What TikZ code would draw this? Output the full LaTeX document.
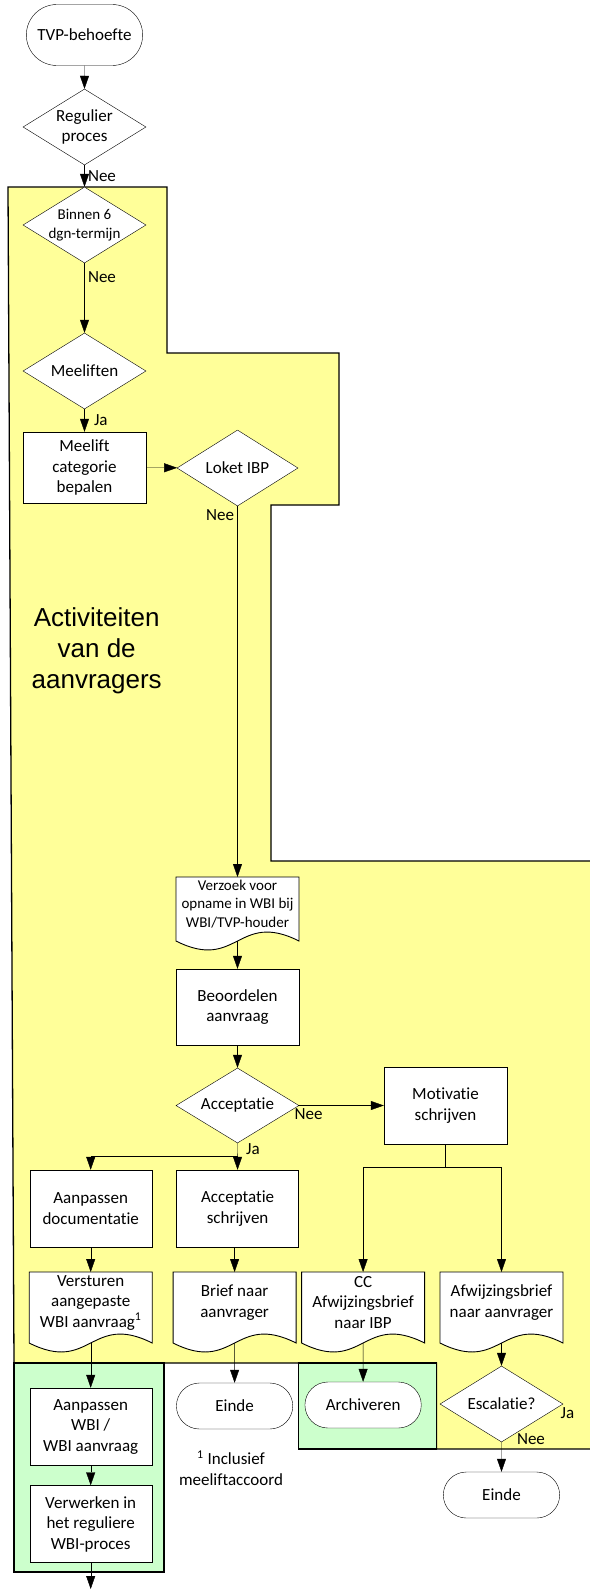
\documentclass[tikz,border=0pt]{standalone}
\usepackage{fontspec}
\setmainfont{Carlito}[Ligatures=NoCommon]
\newfontfamily\arialfont{Liberation Sans}
\usetikzlibrary{shapes.geometric,shapes.misc,arrows.meta}
\pgfdeclarelayer{back}
\pgfdeclarelayer{mid}
\pgfsetlayers{back,mid,main}
\definecolor{laneyellow}{RGB}{255,255,153}
\definecolor{lanegreen}{RGB}{204,255,204}

\begin{document}
\begin{tikzpicture}[x=1pt,y=-1pt,line width=0.9pt,
    every node/.style={font=\fontsize{17pt}{20.5pt}\selectfont},
    proc/.style={draw,fill=white,minimum width=123pt,minimum height=76pt,align=center,inner sep=1pt},
    dec/.style={diamond,draw,fill=white,minimum width=123pt,minimum height=76pt,aspect=1.62,inner sep=0pt,align=center},
    term/.style={rounded rectangle,draw,fill=white,minimum width=123pt,minimum height=46pt},
    docu/.style={minimum width=123pt,minimum height=61pt,align=center,inner sep=1pt,outer sep=0pt},
    docline/.style={draw=black,fill=white,line width=0.9pt},
    arr/.style={-{Triangle[length=13pt,width=9pt]}},
    lane/.style={draw,line width=1.3pt},
    small/.style={font=\fontsize{15pt}{18.5pt}\selectfont}]
    \useasboundingbox (0,0) rectangle (589,1590);
    \begin{pgfonlayer}{back}
        \draw[lane,fill=laneyellow] (8,187) -- (167,187) -- (167,353) -- (339,353) -- (339,505) -- (271,505) -- (271,861) -- (592,861) -- (592,1449) -- (436.5,1449) -- (436.5,1363) -- (14,1363) -- cycle;
        \draw[lane,fill=lanegreen] (14,1363) rectangle (164,1572);
        \draw[lane,fill=lanegreen] (298.6,1363) rectangle (436.5,1449);
    \end{pgfonlayer}

    \node[align=center,font=\arialfont\fontsize{26pt}{31pt}\selectfont] (lanetitel) at (96.7,651) {Activiteiten\\van de\\aanvragers};

    \node[term,minimum height=61pt] (tvp) at (84.5,35) {TVP-behoefte};
    \node[dec] (reg) at (84.5,127) {Regulier\\proces};
    \node[dec,small,inner sep=-2pt] (binnen) at (84.5,225) {Binnen 6\\dgn-termijn};
    \node[dec] (meel) at (84.5,371) {Meeliften};
    \node[proc,minimum height=71pt] (cat) at (84.5,467.5) {Meelift\\categorie\\bepalen};
    \node[dec,minimum width=121pt] (loket) at (237.5,468) {Loket IBP};
    \node[docu,small,minimum height=54pt] (verzoek) at (237.5,904) {Verzoek voor\\opname in WBI bij\\WBI/TVP-houder};
    \node[proc] (beoord) at (237.5,1007) {Beoordelen\\aanvraag};
    \node[dec,minimum height=75pt] (accept) at (237.5,1105.5) {Acceptatie};
    \node[proc,minimum height=77pt] (motiv) at (445.5,1105.5) {Motivatie\\schrijven};
    \node[proc,minimum width=122pt,minimum height=77pt] (aandoc) at (90.7,1208.5) {Aanpassen\\documentatie};
    \node[proc,minimum width=122pt,minimum height=77pt] (accschr) at (237.6,1208.5) {Acceptatie\\schrijven};
    \node[docu] (verst) at (90.7,1302.5) {Versturen\\aangepaste\\WBI aanvraag\textsuperscript{1}};
    \node[docu] (brief) at (234.6,1302.5) {Brief naar\\aanvrager};
    \node[docu] (cc) at (363.1,1302.5) {CC\\Afwijzingsbrief\\naar IBP};
    \node[docu] (afw) at (501.5,1302.5) {Afwijzingsbrief\\naar aanvrager};
    \node[proc,minimum width=122pt,minimum height=77pt] (aanwbi) at (90.7,1426.5) {Aanpassen\\WBI /\\WBI aanvraag};
    \node[proc,minimum width=122pt,minimum height=77pt] (verwerk) at (90.7,1524) {Verwerken in\\het reguliere\\WBI-proces};
    \node[term] (einde) at (234.6,1406) {Einde};
    \node[term] (archief) at (363.1,1405) {Archiveren};
    \node[dec] (escal) at (501.5,1404) {Escalatie?};
    \node[term] (eindetwee) at (501.5,1495) {Einde};
    \node[align=center] (voetnoot) at (231,1468) {\textsuperscript{1} Inclusief\\meeliftaccoord};

    \begin{pgfonlayer}{mid}
        \foreach \d in {verzoek,verst,brief,cc,afw}
            \draw[docline] (\d.north west) -- (\d.north east) -- ([yshift=-10pt]\d.south east) .. controls +(-61.5,-31) and +(61.5,31) .. ([yshift=-10pt]\d.south west) -- cycle;
    \end{pgfonlayer}

    \coordinate (jacc) at (237.5,1156);
    \coordinate (jmot) at (445.5,1167);
    \coordinate (uit) at (90.7,1589);

    \draw[arr] (tvp) -- (reg);
    \draw[arr] (reg) -- node[right] {Nee} (binnen);
    \draw[arr] (binnen) -- node[pos=0.2,right] {Nee} (meel);
    \draw[arr] (meel) -- node[right=6pt] {Ja} (cat);
    \draw[arr] (cat) -- (loket);
    \draw[arr] (loket) -- node[pos=0,below left] {Nee} (verzoek);
    \draw[arr] ([yshift=-10pt]verzoek.south) -- (beoord);
    \draw[arr] (beoord) -- (accept);
    \draw[arr] (accept) -- node[pos=0,below right,xshift=-8pt] {Nee} (motiv);
    \draw[arr] (accept) -- node[pos=0.22,right=5pt] {Ja} (accschr);
    \draw[arr] (jacc) -| (aandoc.north);
    \draw (motiv) -- (jmot);
    \draw[arr] (jmot) -| (cc.north);
    \draw[arr] (jmot) -| (afw.north);
    \draw[arr] (aandoc) -- (verst);
    \draw[arr] (accschr.south -| brief.north) -- (brief.north);
    \draw[arr] ([yshift=-10pt]verst.south) -- (aanwbi);
    \draw[arr] ([yshift=-10pt]brief.south) -- (einde);
    \draw[arr] ([yshift=-10pt]cc.south) -- (archief);
    \draw[arr] ([yshift=-10pt]afw.south) -- (escal);
    \draw[arr] (escal) -- node[pos=0,right=12pt,yshift=3pt] {Nee} (eindetwee);
    \node[below right,xshift=-6pt] (escalja) at (escal.east) {Ja};
    \draw[arr] (aanwbi) -- (verwerk);
    \draw[arr] (verwerk) -- (uit);
\end{tikzpicture}
\end{document}
